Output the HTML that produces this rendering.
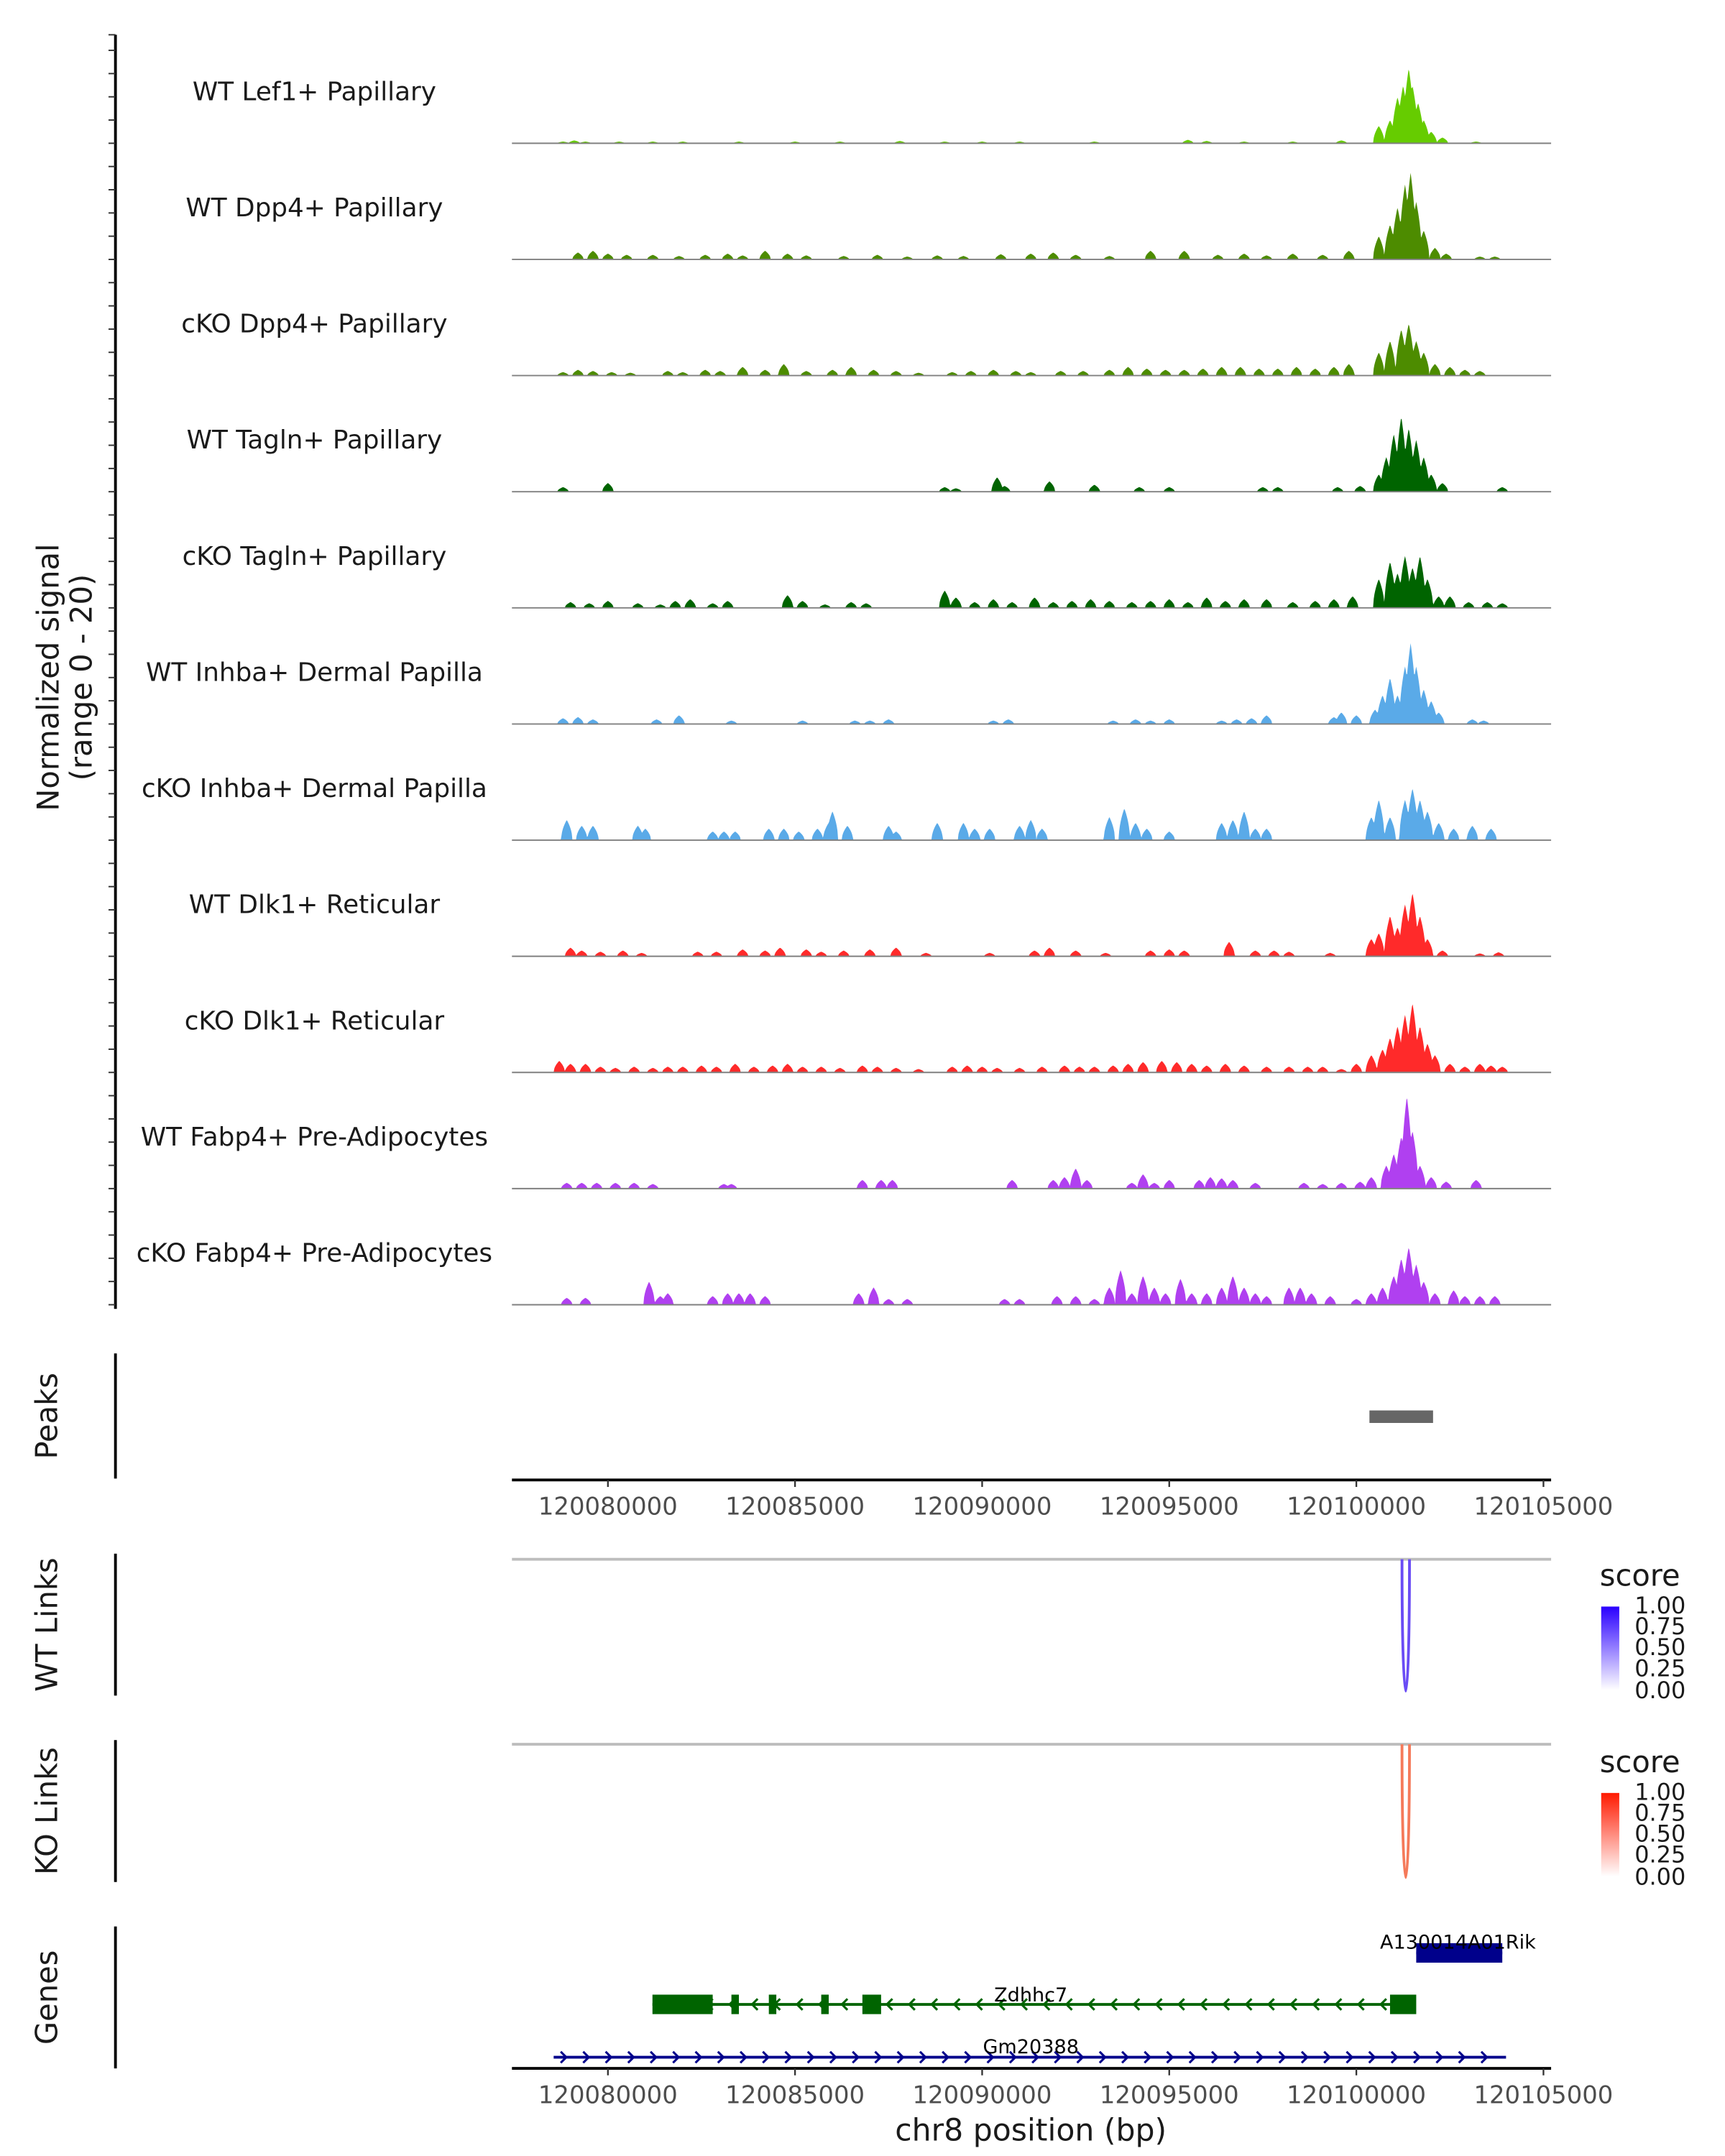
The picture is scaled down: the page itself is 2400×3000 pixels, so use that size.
<!DOCTYPE html>
<html><head><meta charset="utf-8"><style>
html,body{margin:0;padding:0;background:#fff;}
svg{display:block;font-family:"DejaVu Sans","Liberation Sans",sans-serif;}
</style></head><body>
<svg id="fig" width="2400" height="3000" viewBox="0 0 1240 1550" xmlns="http://www.w3.org/2000/svg">
<rect width="1240" height="1550" fill="#fff"/>
<g id="tracks"></g>
<g id="left-axis"></g>
<text transform="translate(42,487) rotate(-90)" text-anchor="middle" font-size="21.5" fill="#1a1a1a">Normalized signal</text>
<text transform="translate(66,487) rotate(-90)" text-anchor="middle" font-size="21.5" fill="#1a1a1a">(range 0 - 20)</text>

<line x1="83" y1="973" x2="83" y2="1063" stroke="#000" stroke-width="2"/>
<text transform="translate(41,1018) rotate(-90)" text-anchor="middle" font-size="21.5" fill="#1a1a1a">Peaks</text>
<g id="peaks"></g>
<g id="xaxis1"></g>

<line x1="83" y1="1117" x2="83" y2="1219" stroke="#000" stroke-width="2"/>
<text transform="translate(41,1168) rotate(-90)" text-anchor="middle" font-size="21.5" fill="#1a1a1a">WT Links</text>
<line x1="368" y1="1121" x2="1115" y2="1121" stroke="#bdbdbd" stroke-width="2"/>
<g id="wtlinks"></g>

<line x1="83" y1="1251" x2="83" y2="1353" stroke="#000" stroke-width="2"/>
<text transform="translate(41,1302) rotate(-90)" text-anchor="middle" font-size="21.5" fill="#1a1a1a">KO Links</text>
<line x1="368" y1="1254" x2="1115" y2="1254" stroke="#bdbdbd" stroke-width="2"/>
<g id="kolinks"></g>

<defs>
<linearGradient id="gb" x1="0" y1="1" x2="0" y2="0"><stop offset="0" stop-color="#ffffff"/><stop offset="1" stop-color="#2a00ff"/></linearGradient>
<linearGradient id="gr" x1="0" y1="1" x2="0" y2="0"><stop offset="0" stop-color="#ffffff"/><stop offset="1" stop-color="#ff1a00"/></linearGradient>
</defs>
<g>
<text x="1150" y="1140" font-size="21.5" fill="#1a1a1a">score</text>
<rect x="1151" y="1155" width="13" height="60" fill="url(#gb)"/>
<g font-size="16.5" fill="#1a1a1a"><text x="1175" y="1160">1.00</text><text x="1175" y="1175">0.75</text><text x="1175" y="1190">0.50</text><text x="1175" y="1205">0.25</text><text x="1175" y="1221">0.00</text></g>
</g>
<g>
<text x="1150" y="1274" font-size="21.5" fill="#1a1a1a">score</text>
<rect x="1151" y="1289" width="13" height="60" fill="url(#gr)"/>
<g font-size="16.5" fill="#1a1a1a"><text x="1175" y="1294">1.00</text><text x="1175" y="1309">0.75</text><text x="1175" y="1324">0.50</text><text x="1175" y="1339">0.25</text><text x="1175" y="1355">0.00</text></g>
</g>

<line x1="83" y1="1385" x2="83" y2="1487" stroke="#000" stroke-width="2"/>
<text transform="translate(41,1436) rotate(-90)" text-anchor="middle" font-size="21.5" fill="#1a1a1a">Genes</text>
<g id="genes"></g>
<g id="xaxis2"></g>
<text x="741" y="1539" text-anchor="middle" font-size="22" fill="#1a1a1a">chr8 position (bp)</text>
</svg>
<script>
// positions in kb offset from 120,000,000
const trackNames = ["WT Lef1+ Papillary","WT Dpp4+ Papillary","cKO Dpp4+ Papillary","WT Tagln+ Papillary","cKO Tagln+ Papillary","WT Inhba+ Dermal Papilla","cKO Inhba+ Dermal Papilla","WT Dlk1+ Reticular","cKO Dlk1+ Reticular","WT Fabp4+ Pre-Adipocytes","cKO Fabp4+ Pre-Adipocytes"];
const trackColors = ["#66cc00","#4d8c00","#4d8c00","#006400","#006400","#5aaae8","#5aaae8","#ff2a2a","#ff2a2a","#b040f0","#b040f0"];
const peaks0 = [[78.8,0.3],[79.1,0.5],[79.4,0.3],[80.3,0.3],[81.2,0.3],[82.0,0.3],[83.5,0.3],[85.0,0.3],[86.2,0.3],[87.8,0.4],[89.0,0.3],[90.0,0.3],[91.0,0.3],[93.0,0.3],[95.5,0.6],[96.0,0.4],[97.0,0.3],[98.3,0.3],[99.6,0.5],[100.6,3],[100.9,4],[101.1,8],[101.25,10],[101.4,13],[101.5,10],[101.65,7],[101.8,4],[102.0,2],[102.3,1],[103.2,0.3]];
const peaks1 = [[79.2,1.2],[79.6,1.5],[80,1],[80.5,0.8],[81.2,0.8],[81.9,0.6],[82.6,0.8],[83.2,1],[83.6,0.7],[84.2,1.5],[84.8,1],[85.3,0.7],[86.3,0.6],[87.2,0.8],[88,0.5],[88.8,0.7],[89.5,0.6],[90.5,0.9],[91.3,1],[91.9,1.2],[92.5,0.8],[93.4,0.6],[94.5,1.5],[95.4,1.5],[96.3,0.8],[97,1],[97.6,0.7],[98.3,1],[99.1,0.8],[99.8,1.5],[100.6,4],[100.9,6],[101.1,9],[101.3,13],[101.45,15],[101.6,10],[101.8,5],[102.1,2],[102.4,1],[103.3,0.5],[103.7,0.5]];
const peaks2 = [[78.8,0.6],[79.2,1],[79.6,0.8],[80.1,0.6],[80.6,0.5],[81.6,0.8],[82.0,0.6],[82.6,1],[83.0,0.8],[83.6,1.5],[84.2,1],[84.7,2],[85.3,0.8],[86.0,1],[86.5,1.5],[87.1,1],[87.7,0.8],[88.3,0.5],[89.2,0.6],[89.7,0.8],[90.3,1],[90.9,0.8],[91.3,0.6],[92.1,0.8],[92.7,0.8],[93.4,1],[93.9,1.5],[94.4,1.2],[94.9,1],[95.4,1],[95.9,1.2],[96.4,1.5],[96.9,1.5],[97.4,1.2],[97.9,1.2],[98.4,1.5],[98.9,1.2],[99.4,1.5],[99.8,2],[100.6,4],[100.9,6],[101.2,8],[101.4,9],[101.6,6],[101.8,4],[102.1,2],[102.5,1.5],[102.9,1],[103.3,0.8]];
const peaks3 = [[78.8,0.8],[80,1.5],[89.0,0.8],[89.3,0.6],[90.4,2.5],[90.6,1],[91.8,1.8],[93.0,1.2],[94.2,0.8],[95.0,0.8],[97.5,0.8],[97.9,0.8],[99.5,0.8],[100.1,1],[100.6,3],[100.8,6],[101.0,10],[101.2,13],[101.4,11],[101.6,9],[101.8,6],[102.0,3],[102.3,1.5],[103.9,0.8]];
const peaks4 = [[79.0,1],[79.5,0.8],[80,1.2],[80.8,0.8],[81.4,0.6],[81.8,1.2],[82.2,1.5],[82.8,0.8],[83.2,1.2],[84.8,2.2],[85.2,1.2],[85.8,0.6],[86.5,1],[86.9,0.8],[89.0,3],[89.3,1.8],[89.8,1],[90.3,1.5],[90.8,1],[91.4,1.8],[91.9,1],[92.4,1.2],[92.9,1.5],[93.4,1.2],[94.0,1],[94.5,1.2],[95,1.5],[95.5,1],[96,1.8],[96.5,1.2],[97,1.5],[97.6,1.5],[98.3,1],[98.9,1.2],[99.4,1.5],[99.9,2],[100.6,5],[100.9,8],[101.1,6],[101.3,9],[101.5,7],[101.7,9],[101.9,5],[102.2,2],[102.5,2],[103,1],[103.5,1],[103.9,0.8]];
const peaks5 = [[78.8,1],[79.2,1.2],[79.6,0.8],[81.3,0.8],[81.9,1.5],[83.3,0.6],[85.2,0.6],[86.6,0.6],[87.0,0.6],[87.5,0.8],[90.3,0.6],[90.7,0.8],[93.5,0.6],[94.1,0.8],[94.5,0.6],[95,0.8],[96.4,0.6],[96.8,0.8],[97.2,1],[97.6,1.5],[99.4,1.2],[99.6,2],[100,1.5],[100.5,2.5],[100.7,5],[100.9,8],[101.1,5],[101.3,10],[101.45,14],[101.6,10],[101.8,6],[102.0,4],[102.2,2],[103.1,0.8],[103.4,0.6]];
const peaks6 = [[78.9,3.5],[79.3,2.5],[79.6,2.5],[80.8,2.5],[81.0,2],[82.8,1.5],[83.1,1.5],[83.4,1.5],[84.3,2],[84.7,2],[85.1,1.5],[85.6,2],[85.9,3],[86.0,5],[86.4,2.5],[87.5,2.5],[87.7,1.5],[88.8,3],[89.5,3],[89.8,2],[90.2,2],[91.0,2.5],[91.3,3.5],[91.6,2],[93.4,4],[93.8,5.5],[94.1,3],[94.4,2],[95.0,1.5],[96.4,3],[96.7,3.5],[97.0,5],[97.3,2],[97.6,2],[100.4,4],[100.6,7],[100.9,4],[101.3,7],[101.5,9],[101.7,7],[101.9,5],[102.2,3],[102.6,2],[103.1,2.5],[103.6,2]];
const peaks7 = [[79.0,1.5],[79.3,1],[79.8,0.8],[80.4,1],[80.9,0.6],[82.4,0.8],[82.9,0.8],[83.6,1.2],[84.2,1],[84.6,1.5],[85.3,1.2],[85.7,0.8],[86.3,1],[87.0,1.2],[87.7,1.5],[88.5,0.6],[90.2,0.6],[91.4,1],[91.8,1.5],[92.5,1],[93.3,0.6],[94.5,1],[95.0,1.2],[95.4,1],[96.6,2.5],[97.3,1],[97.8,1],[98.2,0.8],[99.3,0.6],[100.4,3],[100.6,4],[100.9,7],[101.1,5],[101.3,9],[101.5,11],[101.7,7],[101.9,3],[102.3,1],[103.3,0.5],[103.8,0.7]];
const peaks8 = [[78.7,2],[79.0,1.5],[79.4,1.5],[79.8,1],[80.2,0.8],[80.7,1],[81.2,0.8],[81.6,1],[82.0,1],[82.5,1.2],[82.9,1],[83.4,1.5],[83.9,1],[84.4,1.2],[84.8,1.5],[85.2,1],[85.7,1],[86.2,0.8],[86.8,1.2],[87.2,1],[87.7,0.8],[88.3,0.6],[89.2,1],[89.6,1.2],[90.0,1],[90.4,0.8],[91.0,0.8],[91.6,1],[92.2,1.2],[92.6,1],[93.0,1],[93.5,1.2],[93.9,1.5],[94.3,1.8],[94.8,2],[95.2,1.8],[95.6,1.5],[96,1.2],[96.5,1.5],[97,1.2],[97.6,1],[98.2,1],[98.7,1],[99.1,1],[99.6,0.6],[100.0,1.5],[100.4,3],[100.7,4],[100.9,6],[101.1,8],[101.3,10],[101.5,12],[101.7,8],[101.9,5],[102.1,3],[102.5,1.5],[102.9,1],[103.3,1.5],[103.6,1.2],[103.9,1]];
const peaks9 = [[78.9,1],[79.3,1],[79.7,1],[80.2,1],[80.7,1],[81.2,0.8],[83.1,0.8],[83.3,0.8],[86.8,1.5],[87.3,1.5],[87.6,1.5],[90.8,1.5],[91.9,1.5],[92.2,2],[92.5,3.5],[92.8,1.5],[94.0,1],[94.3,2.5],[94.6,1],[95,1.5],[95.8,1.5],[96.1,2],[96.4,1.8],[96.7,1.5],[97.3,1],[98.6,1],[99.1,0.8],[99.6,1],[100.1,1.2],[100.4,2],[100.8,4],[101.0,6],[101.2,9],[101.35,16],[101.5,10],[101.7,4],[102.0,2],[102.4,1.2],[103.2,1.5]];
const peaks10 = [[78.9,1.2],[79.4,1.2],[81.1,4],[81.4,1.5],[81.6,2],[82.8,1.5],[83.2,2],[83.5,2],[83.8,2],[84.2,1.5],[86.7,2],[87.1,3],[87.5,1],[88.0,1],[90.6,1],[91.0,1],[92.0,1.5],[92.5,1.5],[93.0,1],[93.4,3],[93.7,6],[94.0,2],[94.3,5],[94.6,3],[94.9,2],[95.3,4.5],[95.6,2],[96.0,2],[96.4,3],[96.7,5],[97.0,3],[97.3,2],[97.6,1.5],[98.2,3],[98.5,3],[98.8,2],[99.3,1.5],[100.0,1],[100.4,2],[100.7,3],[101.0,5],[101.2,8],[101.4,10],[101.6,7],[101.8,4],[102.1,2],[102.6,2.5],[102.9,1.5],[103.3,1.5],[103.7,1.5]];
const allPeaks = [peaks0,peaks1,peaks2,peaks3,peaks4,peaks5,peaks6,peaks7,peaks8,peaks9,peaks10];
const tickLabels = ["120080000","120085000","120090000","120095000","120100000","120105000"];
const tickKb = [80,85,90,95,100,105];
const peakRegion = [100.35,102.05];
const wtLink = [101.22,101.42,1.0];
const koLink = [101.22,101.42,0.75];
const genes = [
 {name:"A130014A01Rik",start:101.6,end:103.9,strand:1,color:"#00008b",y:1404,exons:[[101.6,103.9]],lx:1048,ly:1401},
 {name:"Zdhhc7",start:81.19,end:101.56,strand:-1,color:"#006400",y:1441,exons:[[81.19,82.8],[83.3,83.5],[84.3,84.5],[85.7,85.9],[86.8,87.3],[100.9,101.6]],lx:741,ly:1439},
 {name:"Gm20388",start:78.55,end:104.0,strand:1,color:"#00008b",y:1479,exons:[],lx:741,ly:1476}
];

const NS="http://www.w3.org/2000/svg";
function X(kb){return 437+(kb-80)*26.9;}
function mk(tag,attrs,parent){const e=document.createElementNS(NS,tag);for(const k in attrs)e.setAttribute(k,attrs[k]);parent.appendChild(e);return e;}
const UNIT=83/20, HW=0.15;
const tg=document.getElementById('tracks');
allPeaks.forEach((pk,i)=>{
  const base=103+i*83.5;
  const g=mk('g',{},tg);
  
  
  const lab=mk('text',{x:226,y:base-31,'text-anchor':'middle','font-size':18.5,fill:'#1a1a1a'},g);
  lab.textContent=trackNames[i];
  
  
  let d='M368,'+base;
  for(let x=368;x<=1115;x+=0.5){
    const kb=80+(x-437)/26.9; let v=0;
    pk.forEach(p=>{const t=1-Math.abs(kb-p[0])/HW; if(t>0)v=Math.max(v,p[1]*Math.sqrt(t));});
    d+=' L'+x+','+(base-v*UNIT).toFixed(2);
  }
  d+=' L1115,'+base+' Z';
  const a=mk('path',{d:d,fill:trackColors[i]},g);
  
  
  const bl=mk('line',{x1:368,y1:base,x2:1115,y2:base,stroke:'#808080','stroke-width':1},g);
  
  
});
const la=document.getElementById('left-axis');
mk('line',{x1:83,y1:25,x2:83,y2:941,stroke:'#000','stroke-width':2},la);
for(let i=0;i<11;i++){const base=103+i*83.5;for(let j=0;j<5;j++){const y=base-j*83.5/5;mk('line',{x1:78,y1:y,x2:83,y2:y,stroke:'#333','stroke-width':1},la);}}
mk('line',{x1:78,y1:25,x2:83,y2:25,stroke:'#333','stroke-width':1},la);

const pg=document.getElementById('peaks');
const pr=mk('rect',{x:X(peakRegion[0]),y:1014,width:X(peakRegion[1])-X(peakRegion[0]),height:9,fill:'#666'},pg);



function axis(id,y){
  const g=document.getElementById(id);
  mk('line',{x1:368,y1:y,x2:1115,y2:y,stroke:'#000','stroke-width':2},g);
  tickKb.forEach((k,i)=>{
    mk('line',{x1:X(k),y1:y,x2:X(k),y2:y+5,stroke:'#333','stroke-width':1.2},g);
    const t=mk('text',{x:X(k),y:y+25,'text-anchor':'middle','font-size':17.5,fill:'#4d4d4d'},g);
    t.textContent=tickLabels[i];
    
    
  });
}
axis('xaxis1',1064); axis('xaxis2',1487);

function link(id,l,top,depth,color){
  const g=document.getElementById(id);
  const x1=X(l[0]),x2=X(l[1]);
  const p=mk('path',{d:`M${x1},${top} C${x1},${top+depth*1.33} ${x2},${top+depth*1.33} ${x2},${top}`,fill:'none',stroke:color,'stroke-width':2},g);
  
  
}
link('wtlinks',wtLink,1121,95,'#6a4cf5');
link('kolinks',koLink,1254,96,'#f57a5a');

const gg=document.getElementById('genes');
genes.forEach(gn=>{
  const g=mk('g',{},gg);
  
  
  mk('line',{x1:X(gn.start),y1:gn.y,x2:X(gn.end),y2:gn.y,stroke:gn.color,'stroke-width':2},g);
  for(let k=gn.start+0.3;k<gn.end-0.1;k+=0.6){
    const x=X(k);
    const pts=gn.strand>0?`${x-3},${gn.y-4} ${x+1},${gn.y} ${x-3},${gn.y+4}`:`${x+3},${gn.y-4} ${x-1},${gn.y} ${x+3},${gn.y+4}`;
    mk('polyline',{points:pts,fill:'none',stroke:gn.color,'stroke-width':1.6},g);
  }
  gn.exons.forEach(e=>{mk('rect',{x:X(e[0]),y:gn.y-7,width:Math.max(3,X(e[1])-X(e[0])),height:14,fill:gn.color},g);});
  const t=mk('text',{x:gn.lx,y:gn.ly,'text-anchor':'middle','font-size':14,fill:'#000'},g);
  t.textContent=gn.name;
  
  
});
</script>
</body></html>
